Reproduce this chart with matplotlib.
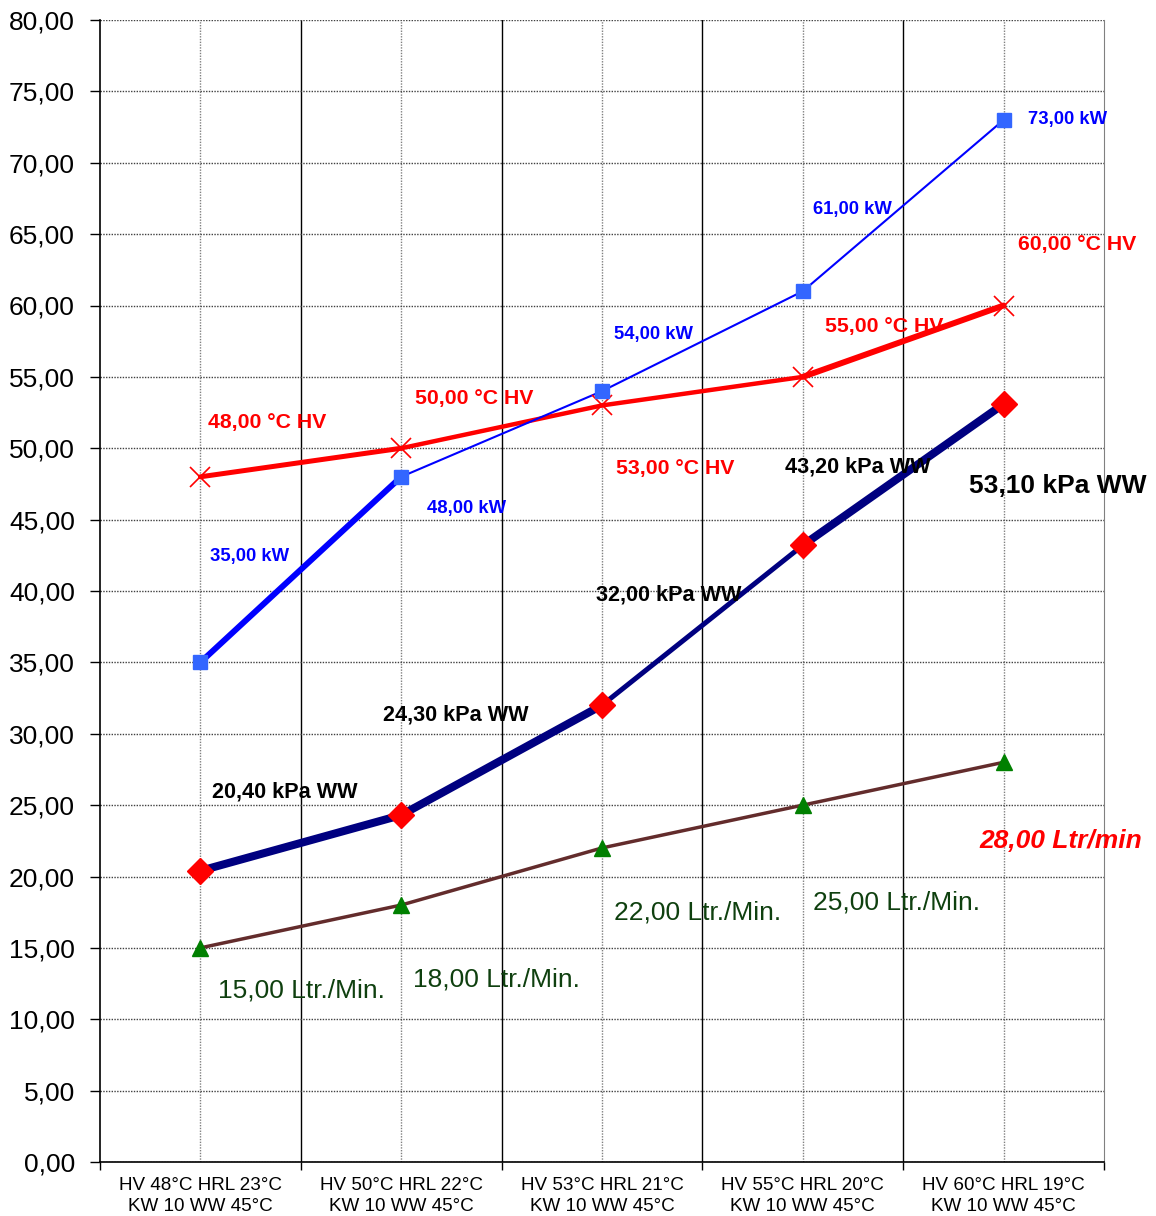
import matplotlib
matplotlib.use("Agg")
import matplotlib.pyplot as plt
from matplotlib.ticker import FuncFormatter

plt.rcParams["font.family"] = ["Liberation Sans", "DejaVu Sans"]

# ---------- data ----------
categories = [
    "HV 48°C HRL 23°C\nKW 10 WW 45°C",
    "HV 50°C HRL 22°C\nKW 10 WW 45°C",
    "HV 53°C HRL 21°C\nKW 10 WW 45°C",
    "HV 55°C HRL 20°C\nKW 10 WW 45°C",
    "HV 60°C HRL 19°C\nKW 10 WW 45°C",
]
kw = [35.0, 48.0, 54.0, 61.0, 73.0]          # Leistung kW
hv_temp = [48.0, 50.0, 53.0, 55.0, 60.0]     # Vorlauf °C HV
kpa = [20.4, 24.3, 32.0, 43.2, 53.1]         # Druckverlust kPa WW
ltr = [15.0, 18.0, 22.0, 25.0, 28.0]         # Ltr./Min.

kw_labels = ["35,00 kW", "48,00 kW", "54,00 kW", "61,00 kW", "73,00 kW"]
hv_labels = ["48,00 °C HV", "50,00 °C HV", "53,00 °C HV", "55,00 °C HV", "60,00 °C HV"]
kpa_labels = ["20,40 kPa WW", "24,30 kPa WW", "32,00 kPa WW", "43,20 kPa WW", "53,10 kPa WW"]
ltr_labels = ["15,00 Ltr./Min.", "18,00 Ltr./Min.", "22,00 Ltr./Min.", "25,00 Ltr./Min.", "28,00 Ltr/min"]

# label positions (data coords, left/center)
kw_pos = [(0.05, 42.45), (1.13, 45.8), (2.06, 58.0), (3.05, 66.76), (4.12, 73.0)]
hv_pos = [(0.04, 51.77), (1.07, 53.52), (2.07, 48.6), (3.11, 58.5), (4.07, 64.3)]
kpa_pos = [(0.06, 25.92), (0.91, 31.31), (1.97, 39.72), (2.91, 48.69), (3.83, 47.36)]
ltr_pos = [(0.09, 11.98), (1.06, 12.75), (2.06, 17.51), (3.05, 18.21), (3.88, 22.49)]

# per-segment line widths (pt)
kw_lw = [4.3, 1.5, 1.5, 1.5]
hv_lw = [3.6, 3.2, 3.2, 4.3]
kpa_lw = [5.8, 5.8, 3.6, 5.8]
ltr_lw = [2.5, 2.5, 2.5, 2.5]
# --------------------------

x = list(range(len(categories)))

fig = plt.figure(figsize=(11.56, 12.16), dpi=100)
ax = fig.add_axes([100 / 1156, 54 / 1216, 1004 / 1156, 1142 / 1216])
ax.set_xlim(-0.5, 4.5)
ax.set_ylim(0, 80)


def segments(vals, widths, color, z):
    for i in range(len(vals) - 1):
        ax.plot(x[i:i + 2], vals[i:i + 2], color=color, lw=widths[i],
                solid_capstyle="round", zorder=z)


segments(ltr, ltr_lw, "#632c2c", 3)
segments(kpa, kpa_lw, "#000080", 4)
segments(hv_temp, hv_lw, "#ff0000", 5)
segments(kw, kw_lw, "#0000ff", 6)

ax.plot(x, ltr, ls="none", marker="^", ms=11, color="#008000", zorder=7)
ax.plot(x, kpa, ls="none", marker="D", ms=13, color="#ff0000", zorder=7)
ax.plot(x, hv_temp, ls="none", marker="x", ms=15, mew=1.2, color="#ff0000", zorder=7)
ax.plot(x, kw, ls="none", marker="s", ms=10, color="#3366ff", zorder=7)

for (px, py), t in zip(kw_pos, kw_labels):
    ax.text(px, py, t, color="#0000ff", fontsize=13.3, fontweight="bold",
            ha="left", va="center", zorder=9)
for (px, py), t in zip(hv_pos, hv_labels):
    ax.text(px, py, t, color="#ff0000", fontsize=15.3, fontweight="bold",
            ha="left", va="center", zorder=9)
for i, ((px, py), t) in enumerate(zip(kpa_pos, kpa_labels)):
    ax.text(px, py, t, color="black", fontsize=19 if i == 4 else 15.6,
            fontweight="bold", ha="left", va="center", zorder=9)
for i, ((px, py), t) in enumerate(zip(ltr_pos, ltr_labels)):
    if i == 4:
        ax.text(px, py, t, color="#ff0000", fontsize=19, fontweight="bold",
                fontstyle="italic", ha="left", va="center", zorder=9)
    else:
        ax.text(px, py, t, color="#0f400f", fontsize=19,
                ha="left", va="center", zorder=9)

# axes, ticks and grid
bounds = [i - 0.5 for i in range(len(categories) + 1)]
ax.set_xticks(bounds)
ax.set_xticklabels([])
ax.set_xticks(x, minor=True)
ax.set_xticklabels(categories, minor=True, fontsize=13.6, linespacing=1.25)
ax.tick_params(axis="x", which="major", length=6, width=1, direction="out")
ax.tick_params(axis="x", which="minor", length=0, pad=11)
ax.set_yticks(range(0, 81, 5))
ax.yaxis.set_major_formatter(FuncFormatter(lambda v, p: f"{v:.2f}".replace(".", ",")))
ax.tick_params(axis="y", length=7, width=1, direction="out", labelsize=19, pad=11)

ax.grid(axis="y", which="major", ls=(0, (1, 1)), color="#404040", lw=1, zorder=1)
ax.grid(axis="x", which="minor", ls=(0, (1, 1)), color="#808080", lw=1, zorder=1)
for b in bounds[1:-1]:
    ax.axvline(b, color="black", lw=1, zorder=1)

ax.spines["top"].set_visible(False)
ax.spines["right"].set_color("#808080")
ax.spines["left"].set_linewidth(1.2)
ax.spines["bottom"].set_linewidth(1.2)

fig.savefig("out.png", dpi=100)
